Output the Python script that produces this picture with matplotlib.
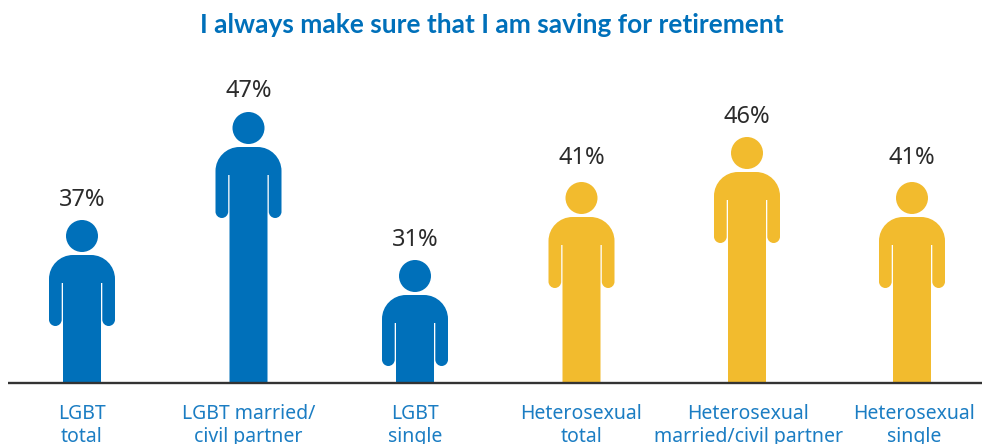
import matplotlib
matplotlib.use("Agg")
import matplotlib.pyplot as plt
from matplotlib.path import Path
from matplotlib.patches import PathPatch, Circle

title = "I always make sure that I am saving for retirement"
categories = ["LGBT\ntotal", "LGBT married/\ncivil partner", "LGBT\nsingle",
              "Heterosexual\ntotal", "Heterosexual\nmarried/civil partner", "Heterosexual\nsingle"]
percent = [37, 47, 31, 41, 46, 41]
# pictogram heights as drawn in the picture (not proportional to the labels)
figure_height = [163, 271, 123, 201, 246, 201]
group_colour = ["#0070BA", "#0070BA", "#0070BA", "#F2BB2E", "#F2BB2E", "#F2BB2E"]

W, H = 982, 444
BASE = 383
centres = [82, 248.5, 415, 581.5, 747, 912]
label_centres = [82, 248.5, 415, 581.5, 748.5, 914.5]
label_gap = [20, 21, 20, 24, 20, 24]

fig = plt.figure(figsize=(W / 100, H / 100), dpi=100)
ax = fig.add_axes([0, 0, 1, 1])
ax.set_xlim(0, W)
ax.set_ylim(BASE - H, BASE)   # y = height above the baseline, in pixels
ax.axis("off")
ax.set_aspect("equal")


def person(cx, h, colour):
    r = 16
    ax.add_patch(Circle((cx, h - r), r, fc=colour, ec="none"))
    top = h - 2 * r - 3
    out, inn, arm_in = 33, 19, 20.3
    c = 24            # shoulder radius
    k = 0.55 * c
    arm_bot = top - 71
    gap_top = top - 28
    ar = (out - arm_in) / 2
    ak = 0.55 * ar
    my = arm_bot + ar
    verts, codes = [], []

    def m(p): verts.append(p); codes.append(Path.MOVETO)
    def l(p): verts.append(p); codes.append(Path.LINETO)
    def q(a, b, d):
        verts.extend([a, b, d]); codes.extend([Path.CURVE4] * 3)

    m((cx - inn, 0))
    l((cx - inn, gap_top))
    l((cx - arm_in, gap_top))
    l((cx - arm_in, my))
    q((cx - arm_in, my - ak), (cx - out + ar + ak, arm_bot), (cx - out + ar, arm_bot))
    q((cx - out + ar - ak, arm_bot), (cx - out, my - ak), (cx - out, my))
    l((cx - out, top - c))
    q((cx - out, top - c + k), (cx - out + c - k, top), (cx - out + c, top))
    l((cx + out - c, top))
    q((cx + out - c + k, top), (cx + out, top - c + k), (cx + out, top - c))
    l((cx + out, my))
    q((cx + out, my - ak), (cx + out - ar + ak, arm_bot), (cx + out - ar, arm_bot))
    q((cx + out - ar - ak, arm_bot), (cx + arm_in, my - ak), (cx + arm_in, my))
    l((cx + arm_in, gap_top))
    l((cx + inn, gap_top))
    l((cx + inn, 0))
    verts.append((cx - inn, 0)); codes.append(Path.CLOSEPOLY)
    ax.add_patch(PathPatch(Path(verts, codes), fc=colour, ec="none"))


FONT = ["Noto Sans", "DejaVu Sans"]
for cx, lx, h, col, p, cat, gap in zip(centres, label_centres, figure_height, group_colour,
                                       percent, categories, label_gap):
    person(cx, h, col)
    ax.text(cx, h + gap, f"{p}%", ha="center", va="center", fontsize=17,
            color="#2B2B2B", family=FONT)
    a, b = cat.split("\n")
    ax.text(lx, BASE - 414, a, ha="center", va="center", fontsize=14,
            color="#1B7DC3", family=FONT)
    ax.text(lx, BASE - 437, b, ha="center", va="center", fontsize=14,
            color="#1B7DC3", family=FONT)

ax.plot([8, W], [0, 0], color="#333333", lw=1.7, solid_capstyle="butt", zorder=5)
ax.text(492, BASE - 25, title, ha="center", va="center", fontsize=18.9,
        fontweight="bold", color="#0070BA", family=["Lato", "DejaVu Sans"])

fig.savefig("out.png", dpi=100)
